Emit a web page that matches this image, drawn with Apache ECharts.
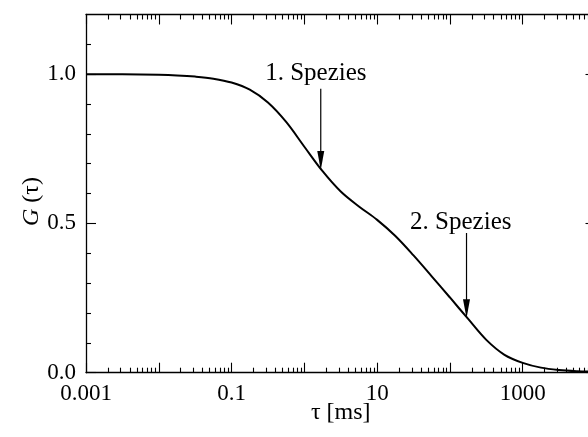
<!DOCTYPE html>
<html>
<head>
<meta charset="utf-8">
<script src="https://cdn.jsdelivr.net/npm/echarts@6/dist/echarts.min.js"></script>
<style>
html,body{margin:0;padding:0;background:#fff;}
#c{width:588px;height:437px;}
</style>
</head>
<body>
<div id="c"></div>
<script>
// ---- data ----
const tau = [0.001, 0.00316, 0.01, 0.0178, 0.0316, 0.0562, 0.1, 0.178, 0.316, 0.562, 1, 1.78, 3.16, 5.62, 10, 17.8, 31.6, 56.2, 100, 178, 316, 562, 1000, 1780, 3160, 5620, 10000];
const G = [1.000, 0.9995, 0.998, 0.996, 0.992, 0.985, 0.972, 0.948, 0.905, 0.84, 0.757, 0.675, 0.607, 0.557, 0.512, 0.458, 0.393, 0.323, 0.252, 0.18, 0.11, 0.06, 0.033, 0.017, 0.009, 0.005, 0.003];

const xMajorTicks = [0.001, 0.01, 0.1, 1, 10, 100, 1000, 10000];
const xLabelValues = [0.001, 0.1, 10, 1000];
const xLabelTexts = ['0.001', '0.1', '10', '1000'];
const yMajorTicks = [0, 0.5, 1.0];
const yMinorTicks = [0.1, 0.2, 0.3, 0.4, 0.6, 0.7, 0.8, 0.9, 1.1];
const yLabelTexts = ['0.0', '0.5', '1.0'];

const annLabels = ['1. Spezies', '2. Spezies'];
const annTau = [1.68, 169];
const annTop = [0.951, 0.468];
const annTip = [0.679, 0.182];
const annTextTau = [1.44, 141];
const annTextG = [1.003, 0.503];

// minor log ticks 2..9 per decade
const xMinorTicks = [];
for (let d = -3; d < 4; d++) {
  for (let k = 2; k <= 9; k++) xMinorTicks.push(+(k * Math.pow(10, d)).toPrecision(6));
}

const FONT = 'Liberation Serif';
const lineStyle = { color: '#000', width: 1.3 };

function xAxis(pos, ticks, len, showLine, labels) {
  return {
    type: 'log', logBase: 10, min: 0.001, max: 10000, position: pos,
    axisLine: { show: showLine, onZero: false, lineStyle: lineStyle },
    axisTick: { show: true, inside: true, length: len, customValues: ticks, lineStyle: { color: '#000', width: 1.1 } },
    axisLabel: labels ? {
      show: true, customValues: xLabelValues, margin: 10,
      formatter: function (v) { const i = xLabelValues.findIndex(t => Math.abs(Math.log10(t) - Math.log10(v)) < 1e-6); return i >= 0 ? xLabelTexts[i] : ''; },
      color: '#000', fontFamily: FONT, fontSize: 23
    } : { show: false },
    splitLine: { show: false },
    name: labels ? 'τ [ms]' : '',
    nameLocation: 'middle', nameGap: 28, nameMoveOverlap: false,
    nameTextStyle: { color: '#000', fontFamily: FONT, fontSize: 24 }
  };
}
function yAxis(pos, ticks, len, showLine, labels) {
  return {
    type: 'value', min: 0, max: 1.2, position: pos,
    axisLine: { show: showLine, onZero: false, lineStyle: lineStyle },
    axisTick: { show: true, inside: true, length: len, customValues: ticks, lineStyle: { color: '#000', width: 1.1 } },
    axisLabel: labels ? {
      show: true, customValues: yMajorTicks, margin: 10,
      formatter: function (v) { const i = yMajorTicks.findIndex(t => Math.abs(t - v) < 1e-6); return i >= 0 ? yLabelTexts[i] : ''; },
      color: '#000', fontFamily: FONT, fontSize: 23
    } : { show: false },
    splitLine: { show: false },
    name: labels ? '{i|G} (τ)' : '',
    nameLocation: 'middle', nameGap: 42, nameRotate: 90, nameMoveOverlap: false,
    nameTextStyle: { color: '#000', fontFamily: FONT, fontSize: 24, padding: [0, 16, 0, 0], rich: { i: { fontStyle: 'italic', fontFamily: FONT, fontSize: 24, color: '#000' } } }
  };
}

const chart = echarts.init(document.getElementById('c'), null, { renderer: 'canvas' });
chart.setOption({
  animation: false,
  backgroundColor: '#fff',
  grid: { left: 86, top: 14.5, width: 509.5, height: 358.2, containLabel: false, outerBoundsMode: 'none' },
  xAxis: [
    xAxis('bottom', xMajorTicks, 10, true, true),
    xAxis('bottom', xMinorTicks, 5, false, false),
    xAxis('top', xMajorTicks, 10, true, false),
    xAxis('top', xMinorTicks, 5, false, false)
  ],
  yAxis: [
    yAxis('left', yMajorTicks, 10, true, true),
    yAxis('left', yMinorTicks, 5, false, false),
    yAxis('right', yMajorTicks, 10, true, false),
    yAxis('right', yMinorTicks, 5, false, false)
  ],
  series: [
    {
      type: 'line', xAxisIndex: 0, yAxisIndex: 0,
      data: tau.map((t, i) => [t, G[i]]),
      smooth: 0.35, showSymbol: false, symbol: 'none',
      lineStyle: { color: '#000', width: 2 },
      z: 3
    },
    {
      type: 'custom', xAxisIndex: 0, yAxisIndex: 0,
      data: annTau.map((t, i) => [t, annTop[i], annTip[i], annTextTau[i], annTextG[i], i]),
      encode: { x: 0, y: 1 },
      renderItem: function (params, api) {
        const t = api.value(0);
        const p0 = api.coord([t, api.value(1)]);
        const p1 = api.coord([t, api.value(2)]);
        const pt = api.coord([api.value(3), api.value(4)]);
        const idx = api.value(5);
        const headH = 19, headW = 3.5;
        return {
          type: 'group',
          children: [
            { type: 'line', shape: { x1: p0[0], y1: p0[1], x2: p1[0], y2: p1[1] - headH + 2 }, style: { stroke: '#000', lineWidth: 1.2 } },
            { type: 'polygon', shape: { points: [[p1[0], p1[1]], [p1[0] - headW, p1[1] - headH], [p1[0] + headW, p1[1] - headH]] }, style: { fill: '#000' } },
            { type: 'text', x: pt[0], y: pt[1], style: { text: annLabels[idx], fill: '#000', font: '25px "Liberation Serif"', align: 'center', verticalAlign: 'middle' } }
          ]
        };
      },
      z: 4
    }
  ]
});
</script>
</body>
</html>
